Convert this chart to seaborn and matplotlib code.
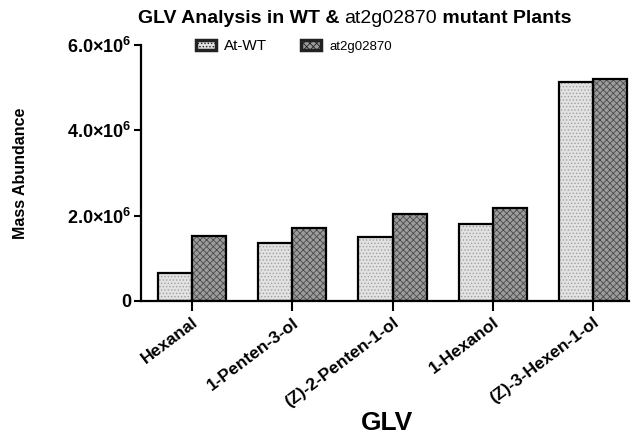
import matplotlib
matplotlib.use("Agg")
import matplotlib.pyplot as plt
from matplotlib.patches import Patch
import seaborn as sns
import pandas as pd

# values (mass abundance)
compounds = ["Hexanal", "1-Penten-3-ol", "(Z)-2-Penten-1-ol", "1-Hexanol", "(Z)-3-Hexen-1-ol"]
wt_vals = [0.65e6, 1.35e6, 1.51e6, 1.81e6, 5.14e6]
mut_vals = [1.53e6, 1.71e6, 2.05e6, 2.18e6, 5.20e6]
groups = ["At-WT", "at2g02870"]
ytick_vals = [0, 2e6, 4e6, 6e6]
ytick_labels = ["0", r"$2.0{\times}10^{6}$", r"$4.0{\times}10^{6}$", r"$6.0{\times}10^{6}$"]

df = pd.DataFrame({
    "GLV": compounds * 2,
    "group": [groups[0]] * len(compounds) + [groups[1]] * len(compounds),
    "value": wt_vals + mut_vals,
})

sns.set_style("ticks")
plt.rcParams["font.family"] = ["Liberation Sans", "DejaVu Sans"]
plt.rcParams["text.color"] = "black"
plt.rcParams["xtick.color"] = "black"
plt.rcParams["ytick.color"] = "black"
plt.rcParams["axes.labelcolor"] = "black"
plt.rcParams["mathtext.fontset"] = "custom"
plt.rcParams["mathtext.rm"] = "Liberation Sans:bold"
plt.rcParams["mathtext.it"] = "Liberation Sans:bold"
plt.rcParams["mathtext.bf"] = "Liberation Sans:bold"
plt.rcParams["hatch.linewidth"] = 0.6

fig = plt.figure(figsize=(6.38, 4.34), dpi=100)
ax = fig.add_axes([0.221, 0.3065, 0.765, 0.5895])

face = {"At-WT": "#e2e2e2", "at2g02870": "#9c9c9c"}
hatch_col = {"At-WT": "#a0a0a0", "at2g02870": "#4a4a4a"}
hatches = {"At-WT": ".....", "at2g02870": "xxxxx"}

# hatched fill (hatch colour follows the edge colour)
sns.barplot(data=df, x="GLV", y="value", hue="group", palette=face,
            width=0.68, gap=0, linewidth=0, legend=False, ax=ax)
for cont, g in zip(ax.containers, groups):
    for p in cont:
        p.set_hatch(hatches[g])
        p.set_edgecolor(hatch_col[g])
        p.set_linewidth(0)

# black outlines on top
sns.barplot(data=df, x="GLV", y="value", hue="group", fill=False,
            palette={g: "black" for g in groups}, width=0.68, gap=0,
            linewidth=1.6, legend=False, ax=ax)

ax.set_xlim(-0.51, 4.36)
ax.set_ylim(0, 6e6)
ax.set_yticks(ytick_vals)
ax.set_yticklabels(ytick_labels, fontsize=13, fontweight="bold")
ax.set_xticks(range(len(compounds)))
ax.set_xticklabels(compounds, rotation=37, ha="right", rotation_mode="anchor",
                   fontsize=12.5, fontweight="bold")
ax.tick_params(axis="y", length=5, width=1.5, pad=2)
ax.tick_params(axis="x", length=7, width=1.5, pad=3)
for s in ["top", "right"]:
    ax.spines[s].set_visible(False)
for s in ["left", "bottom"]:
    ax.spines[s].set_linewidth(1.6)
    ax.spines[s].set_color("black")

ax.set_ylabel("Mass Abundance", fontsize=11.5, fontweight="bold")
ax.yaxis.set_label_coords(-0.232, 0.5)
ax.set_xlabel("")
fig.text(0.607, 0.01, "GLV", fontsize=19, fontweight="bold", ha="center", va="baseline")

# legend
handles = [Patch(facecolor=face[g], edgecolor=hatch_col[g], hatch=hatches[g]) for g in groups]
leg = ax.legend(handles, groups, ncol=2, frameon=False, loc="center left",
                bbox_to_anchor=(0.1, 0.995), borderaxespad=0, handlelength=1.3,
                handleheight=0.6, columnspacing=2.2, handletextpad=0.55, fontsize=11)
for h in leg.legend_handles:
    h.set_linewidth(2.5)
    h.set_edgecolor("#222222")
leg.get_texts()[1].set_fontsize(9.5)

# title with mixed weights
fig.canvas.draw()
r = fig.canvas.get_renderer()
parts = [("GLV Analysis in WT & ", "bold", 14), ("at2g02870", "normal", 14),
         (" mutant Plants", "bold", 14)]
texts = []
for s, w, fs in parts:
    texts.append(fig.text(0, 0.947, s, fontsize=fs, fontweight=w, ha="left", va="baseline"))
widths = [t.get_window_extent(r).width / fig.bbox.width for t in texts]
x = 0.556 - sum(widths) / 2
for t, w in zip(texts, widths):
    t.set_x(x)
    x += w

fig.savefig("out.png", dpi=100)
